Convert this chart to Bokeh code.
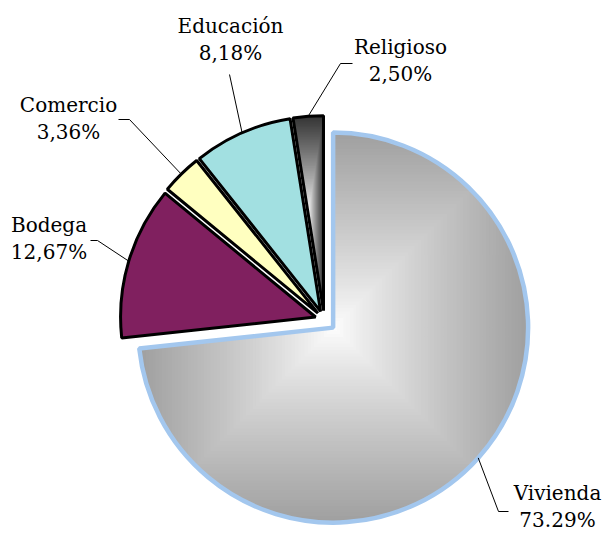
import math
import numpy as np
from bokeh.plotting import figure
from bokeh.models import Range1d
from bokeh.embed import file_html
from bokeh.resources import INLINE
from bokeh.core.properties import value

# ---------------- data ----------------
categories = ["Vivienda", "Bodega", "Comercio", "Educación", "Religioso"]
percent = [73.29, 12.67, 3.36, 8.18, 2.50]
pct_labels = ["73.29%", "12,67%", "3,36%", "8,18%", "2,50%"]

# ---------------- style / layout ----------------
W, H = 604, 533
REF_H = 533
def Y(y):
    return REF_H - y

solid_fill = [None, "#80205f", "#ffffc0", "#a2e0e1", None]
outline = ["#a3c7ee", "#000000", "#000000", "#000000", "#000000"]
outline_w = [4.5, 3, 3, 3, 3]
grad = {0: (160, 255), 4: (52, 255)}      # (outer gray, inner gray)
explode = [12, 9, 9, 9, 9]
CX0, CY0 = 323.7, 319.1   # pie centre (page pixels)
R = 195

# label first-line baseline positions (page pixels) and leader elbows
label_pos = [(557, 492), (48.5, 224), (68, 104), (230, 25), (400, 46)]
line_gap = 27
elbows = [[(498, 511), (508, 511)],
          [(97, 240), (90, 240)],
          [(129, 119), (118, 119)],
          [(229, 74)],
          [(340, 63), (352, 63)]]

p = figure(width=W, height=H, output_backend="svg", toolbar_location=None,
           x_range=Range1d(0, W), y_range=Range1d(Y(H), Y(0)),
           x_axis_location=None, y_axis_location=None, min_border=0)
p.grid.visible = False
p.outline_line_color = None
p.background_fill_color = "white"
p.border_fill_color = "white"


def clip_rect(poly, xmin, xmax, ymin, ymax):
    def clip(pts, inside, inter):
        out = []
        n = len(pts)
        for i in range(n):
            cur, prev = pts[i], pts[i - 1]
            if inside(cur):
                if not inside(prev):
                    out.append(inter(prev, cur))
                out.append(cur)
            elif inside(prev):
                out.append(inter(prev, cur))
        return out

    def ix(xv):
        def f(a, b):
            t = (xv - a[0]) / (b[0] - a[0])
            return (xv, a[1] + t * (b[1] - a[1]))
        return f

    def iy(yv):
        def f(a, b):
            t = (yv - a[1]) / (b[1] - a[1])
            return (a[0] + t * (b[0] - a[0]), yv)
        return f

    pts = list(poly)
    for inside, inter in [(lambda q: q[0] >= xmin, ix(xmin)),
                          (lambda q: q[0] <= xmax, ix(xmax)),
                          (lambda q: q[1] >= ymin, iy(ymin)),
                          (lambda q: q[1] <= ymax, iy(ymax))]:
        if not pts:
            break
        pts = clip(pts, inside, inter)
    return pts


total = sum(percent)
cum = 0.0
leader_xs, leader_ys = [], []
for i, (cat, pc) in enumerate(zip(categories, percent)):
    cw0 = cum / total * 360.0
    cw1 = (cum + pc) / total * 360.0
    cum += pc
    mid = math.radians(90 - (cw0 + cw1) / 2)
    ax = CX0 + explode[i] * math.cos(mid)
    ay = Y(CY0) + explode[i] * math.sin(mid)
    a0 = math.radians(90 - cw1)
    a1 = math.radians(90 - cw0)

    if i in grad:
        th = np.linspace(a0, a1, 300)
        poly = [(ax, ay)] + [(ax + R * math.cos(t), ay + R * math.sin(t)) for t in th]
        xs_ = [q[0] for q in poly]
        ys_ = [q[1] for q in poly]
        bx0, bx1, by0, by1 = min(xs_), max(xs_), min(ys_), max(ys_)
        bcx, bcy = (bx0 + bx1) / 2, (by0 + by1) / 2
        hw, hh = (bx1 - bx0) / 2, (by1 - by0) / 2
        outer, inner = grad[i]
        N = 60
        pxs, pys, cols = [], [], []
        for k in range(N):
            t = 1 - k / N
            cp = clip_rect(poly, bcx - t * hw, bcx + t * hw, bcy - t * hh, bcy + t * hh)
            if len(cp) < 3:
                continue
            g = int(round(inner + (outer - inner) * t ** 0.85))
            pxs.append([q[0] for q in cp])
            pys.append([q[1] for q in cp])
            cols.append("#%02x%02x%02x" % (g, g, g))
        p.patches(pxs, pys, fill_color=cols, line_color=None)
        p.wedge(x=[ax], y=[ay], radius=R, start_angle=[a0], end_angle=[a1],
                fill_alpha=0, line_color=outline[i], line_width=outline_w[i])
    else:
        p.wedge(x=[ax], y=[ay], radius=R, start_angle=[a0], end_angle=[a1],
                fill_color=solid_fill[i], line_color=outline[i],
                line_width=outline_w[i])

    # leader line from slice edge (bisector) to label
    ex = ax + R * math.cos(mid)
    ey = ay + R * math.sin(mid)
    leader_xs.append([ex] + [e[0] for e in elbows[i]])
    leader_ys.append([ey] + [Y(e[1]) for e in elbows[i]])

p.multi_line(leader_xs, leader_ys, line_color="#000000", line_width=1)

lx = [q[0] for q in label_pos]
p.text(x=lx, y=[Y(q[1]) for q in label_pos], text=categories,
       text_font=value("DejaVu Serif"), text_font_size="20px",
       text_align="center", text_baseline="alphabetic", text_color="#000000")
p.text(x=lx, y=[Y(q[1] + line_gap) for q in label_pos], text=pct_labels,
       text_font=value("DejaVu Serif"), text_font_size="20px",
       text_align="center", text_baseline="alphabetic", text_color="#000000")

open("out.html", "w").write(file_html(p, INLINE))
